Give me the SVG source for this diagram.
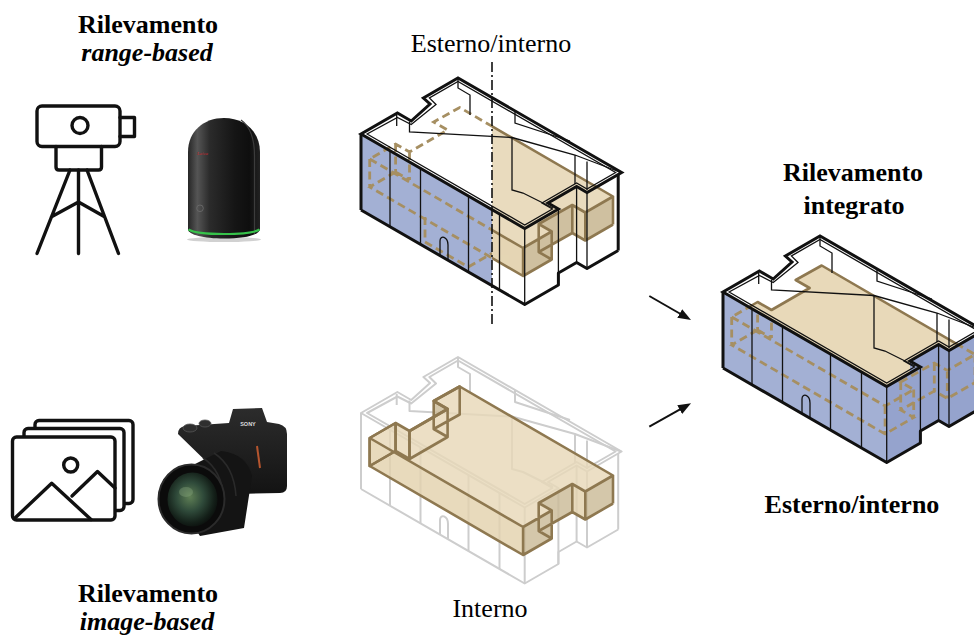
<svg xmlns="http://www.w3.org/2000/svg" width="974" height="635" viewBox="0 0 974 635">
<style>
  .t{font-family:"Liberation Serif","Times New Roman",serif;font-size:26px;fill:#000;text-anchor:middle}
  .b{font-weight:bold}
  .bi{font-weight:bold;font-style:italic}
  .ico{fill:none;stroke:#111;stroke-width:3.4;stroke-linejoin:round;stroke-linecap:round}
  .thin{fill:none;stroke:#111;stroke-width:1.3}
  .thick{fill:none;stroke:#111;stroke-width:3;stroke-linejoin:round}
  .roofline{fill:none;stroke:#111;stroke-width:3;stroke-linejoin:miter}
  .blue{fill:#a3b0d4}
  .blue2{fill:#95a3cd}
  .slabT{fill:#e8d9b9}
  .slabF{fill:#e3d2ae}
  .slabS{fill:#cbbb98}
  .slabE{fill:none;stroke:#8e7850;stroke-width:2.6;stroke-linejoin:round}
  .dash{fill:none;stroke:#a68f62;stroke-width:2.8;stroke-dasharray:8 4.5}
  .gray{fill:none;stroke:#cdcdcd;stroke-width:2;stroke-linejoin:round}
  .cut{fill:none;stroke:#111;stroke-width:1.6;stroke-dasharray:10 3 2 3}
  .arr{fill:none;stroke:#111;stroke-width:2}
</style>
<defs>
  <!-- building geometry, drawn once and reused for the three views -->
  <path id="g-roof" d="M361,134 L524.7,228.5 L558.4,209 L548,203 L576.6,186.5 L587,192.5 L621.6,172.5 L458,78 L423.4,98 L430,104 L411.2,121 L397.4,113 Z"/>
  <path id="g-roofin" d="M367.1,134 L524.7,225 L552.4,209 L542,203 L576.6,183 L587,189 L615.6,172.5 L458,81.5 L429.4,98 L436,104.5 L411.2,124.5 L397.4,117.5 Z"/>
  <path id="g-wallF" d="M361,134 L524.7,228.5 V304.5 L361,210 Z"/>
  <path id="g-wallR" d="M548,203 L576.6,186.5 V262.5 L548,279 Z M524.7,228.5 L558.4,209 V285 L524.7,304.5 Z M576.6,186.5 L587,192.5 V268.5 L576.6,262.5 Z M587,192.5 L618.2,174.5 V250.5 L587,268.5 Z"/>
  <path id="g-base" d="M361,210 L524.7,304.5 L558.4,285 V273 L576.6,262.5 L587,268.5 L618.2,250.5 M361,134 V210 M618.2,174.5 V250.5"/>
  <path id="g-edges" d="M524.7,228.5 V304.5 M558.4,209 V285 M576.6,186.5 V262.5 M587,192.5 V268.5 M390,150.7 V226.7 M420.5,168.4 V244.4 M468.5,196.1 V272.1 M499.5,214 V290 M440,255.6 V241 C440,234.5 448,236.5 448,245 V260.2"/>
  <path id="g-feat" d="M396.7,115 V126 M409.5,121.5 V132 L512,137.5 M458,79 V88 L470,95 V115 M515,111 V123 L570,141 M512,137.5 V190 L523,193 L553,208 M512,137.5 L575,155 L621,172.5 M575,155 V184 M587,161.5 V190"/>
  <!-- interior volume -->
  <path id="s-top" d="M369.7,159 L523.1,248 L551.7,231.5 L538.7,224 L572.3,205 L585.3,212.5 L613,196.5 L459.7,107.5 L433.7,122 L447.6,130 L409.5,152 L395.6,144 Z"/>
  <path id="s-lite" d="M369.7,159 L523.1,248 V276 L369.7,187 Z M572.3,205 L585.3,212.5 V240.5 L572.3,233 Z M395.6,144 L409.5,152 V180 L395.6,172 Z"/>
  <path id="s-dark" d="M523.1,248 L551.7,231.5 V259.5 L523.1,276 Z M538.7,224 L572.3,205 V233 L538.7,252 Z M585.3,212.5 L613,196.5 V224.5 L585.3,240.5 Z"/>
  <path id="s-hid" d="M369.7,159 L395.6,144 V172 L369.7,187 Z M433.7,122 L459.7,107.5 V135.5 L433.7,150 Z M409.5,152 L447.6,130 V158 L409.5,180 Z M433.7,122 L447.6,130 V158 L433.7,150 Z"/>
  <path id="s-edges" d="M369.7,159 L523.1,248 L551.7,231.5 L538.7,224 L572.3,205 L585.3,212.5 L613,196.5 L459.7,107.5 L433.7,122 L447.6,130 L409.5,152 L395.6,144 Z M395.6,172 L369.7,187 L523.1,276 L551.7,259.5 L538.7,252 L572.3,233 L585.3,240.5 L613,224.5 M395.6,172 L409.5,180 M369.7,159 V187 M523.1,248 V276 M551.7,231.5 V259.5 M538.7,224 V252 M572.3,205 V233 M585.3,212.5 V240.5 M613,196.5 V224.5 M395.6,144 V172 M409.5,152 V180"/>

  <clipPath id="cut-l"><rect x="0" y="0" width="492" height="635"/></clipPath>
  <clipPath id="cut-r"><rect x="492" y="0" width="482" height="635"/></clipPath>
  <clipPath id="walls"><use href="#g-wallF"/><use href="#g-wallR"/></clipPath>

  <linearGradient id="blk" x1="0" x2="1" y1="0" y2="0">
    <stop offset="0" stop-color="#262626"/>
    <stop offset="0.13" stop-color="#555"/>
    <stop offset="0.3" stop-color="#2b2b2b"/>
    <stop offset="0.65" stop-color="#151515"/>
    <stop offset="0.85" stop-color="#0e0e0e"/>
    <stop offset="1" stop-color="#222"/>
  </linearGradient>
  <linearGradient id="body" x1="0" x2="0" y1="0" y2="1">
    <stop offset="0" stop-color="#2c2c2c"/>
    <stop offset="1" stop-color="#131313"/>
  </linearGradient>
  <radialGradient id="glass" cx="0.45" cy="0.45" r="0.6">
    <stop offset="0" stop-color="#5f7f55"/>
    <stop offset="0.45" stop-color="#2f4a3a"/>
    <stop offset="0.8" stop-color="#142019"/>
    <stop offset="1" stop-color="#0a0d0b"/>
  </radialGradient>
  <marker id="head" viewBox="0 0 13 10" refX="7" refY="5" markerWidth="13" markerHeight="10" markerUnits="userSpaceOnUse" orient="auto">
    <path d="M0,0 L13,5 L0,10 Z" fill="#111"/>
  </marker>
</defs>

<rect width="974" height="635" fill="#fff"/>

<!-- labels -->
<g id="label-range">
  <text class="t b" x="148" y="33">Rilevamento</text>
  <text class="t bi" x="147" y="61">range-based</text>
</g>
<g id="label-image">
  <text class="t b" x="148" y="602">Rilevamento</text>
  <text class="t bi" x="147" y="630">image-based</text>
</g>
<g id="label-est-int">
  <text class="t" x="491" y="52">Esterno/interno</text>
</g>
<g id="label-interno">
  <text class="t" x="490" y="617">Interno</text>
</g>
<g id="label-integrato">
  <text class="t b" x="853" y="181">Rilevamento</text>
  <text class="t b" x="854" y="214">integrato</text>
</g>
<g id="label-integrato-sub">
  <text class="t b" x="852" y="513">Esterno/interno</text>
</g>

<!-- total station icon -->
<g id="icon-total-station" class="ico">
  <rect x="37" y="106" width="83" height="40.5" rx="5"/>
  <circle cx="80" cy="125.5" r="8"/>
  <path d="M120,117.5 H134.5 V136.5 H120"/>
  <path d="M56,146.5 V167 Q56,170 59,170 H98.5 Q101.5,170 101.5,167 V146.5"/>
  <path d="M78.5,170 V253.5 M70,170 L37,253.5 M87,170 L118.5,253.5 M51.5,216.7 L78.5,202 L104.6,216.7"/>
</g>

<!-- laser scanner -->
<g id="icon-scanner">
  <ellipse cx="224" cy="239.5" rx="37" ry="2.6" fill="#000" opacity="0.18"/>
  <path d="M188,229 V152 C188,131 204,118 224,118 C244,118 260,131 260,152 V229 C260,235 244,238.5 224,238.5 C204,238.5 188,235 188,229 Z" fill="url(#blk)"/>
  <path d="M241,120 C251,127 254.5,142 254.5,156 V234" fill="none" stroke="#3c3c3c" stroke-width="1.2"/>
  <path d="M188.5,229.5 C198,235.5 250,235.5 259.5,229.5" fill="none" stroke="#36c24a" stroke-width="2.2"/>
  <text x="197" y="154.5" font-size="5" fill="#c0272d" font-family="Liberation Serif, serif" font-style="italic">Leica</text>
  <circle cx="200" cy="208.3" r="3.3" fill="none" stroke="#6a6a6a" stroke-width="0.9"/>
</g>

<!-- image stack icon -->
<g id="icon-images" class="ico">
  <rect x="35" y="420.5" width="98" height="83" rx="4" fill="#fff"/>
  <rect x="24" y="428.5" width="100" height="82" rx="4" fill="#fff"/>
  <rect x="12.5" y="437" width="102.5" height="83" rx="4" fill="#fff"/>
  <circle cx="70.7" cy="465" r="7"/>
  <path d="M15,518 L51.7,483.3 L91,519.5"/>
  <path d="M72,496 L97.5,471.5 L115,488"/>
</g>

<!-- mirrorless camera -->
<g id="icon-camera">
  <path d="M178,434 Q178,427 185,426 L229,423 L233,409 L262,408 L267,422 L279,424 Q287,426 287,434 V486 Q287,493 280,493 L238,494 L215,470 Z" fill="url(#body)"/>
  <ellipse cx="190" cy="428" rx="7" ry="4" fill="#2f2f2f" stroke="#555" stroke-width="0.8"/>
  <ellipse cx="205" cy="423.5" rx="6" ry="3.5" fill="#2f2f2f" stroke="#555" stroke-width="0.8"/>
  <text x="248" y="426" font-size="5.5" fill="#ddd" font-family="Liberation Sans, sans-serif" font-weight="bold" text-anchor="middle">SONY</text>
  <path d="M257,446 L260,468" stroke="#b5552e" stroke-width="2"/>
  <path d="M163,480 L221,451 Q247,454 252,476 L244,528 L200,536 Z" fill="#141414"/>
  <path d="M203,458 Q222,470 224,500 M214,453 Q234,466 236,496" fill="none" stroke="#2a2a2a" stroke-width="1.5"/>
  <ellipse cx="191.5" cy="499" rx="33" ry="34.5" fill="#0b0b0b" stroke="#2b2b2b" stroke-width="2"/>
  <ellipse cx="192.5" cy="499.5" rx="25" ry="27" fill="url(#glass)"/>
  <ellipse cx="186" cy="492" rx="7" ry="5" fill="#8fae85" opacity="0.35"/>
</g>

<!-- top: exterior / interior survey -->
<g id="bldg-esterno-interno">
  <g clip-path="url(#cut-l)">
    <use href="#g-roof" fill="#fff"/>
    <use href="#g-wallF" class="blue"/>
    <use href="#s-edges" class="dash"/>
    <path class="dash" d="M425,217 V242 L468.3,267 L492,253.3"/>
  </g>
  <g clip-path="url(#cut-r)">
    <use href="#g-roof" fill="#fff"/>
    <use href="#g-wallF" fill="#fff"/>
    <use href="#g-wallR" fill="#fff"/>
    <g opacity="0.92">
      <use href="#s-hid" class="slabS"/>
      <use href="#s-lite" class="slabF"/>
      <use href="#s-dark" class="slabS"/>
      <use href="#s-top" class="slabT"/>
    </g>
    <use href="#s-edges" class="slabE"/>
  </g>
  <use href="#g-edges" class="thin"/>
  <use href="#g-roofin" class="thin"/>
  <use href="#g-feat" class="thin"/>
  <use href="#g-base" class="thick"/>
  <use href="#g-roof" class="roofline"/>
  <path class="cut" d="M492,62 V326"/>
</g>

<!-- bottom: interior survey -->
<g id="bldg-interno" transform="translate(0,279)">
  <use href="#g-roof" fill="#fff"/>
  <use href="#g-wallR" fill="#fff"/>
  <use href="#g-edges" class="gray"/>
  <use href="#g-roofin" class="gray"/>
  <use href="#g-feat" class="gray"/>
  <use href="#g-base" class="gray"/>
  <use href="#g-roof" class="gray"/>
  <g opacity="0.82">
    <use href="#s-hid" class="slabS"/>
    <use href="#s-lite" class="slabF"/>
    <use href="#s-dark" class="slabS"/>
    <use href="#s-top" class="slabT"/>
  </g>
  <use href="#s-hid" class="slabE"/>
  <use href="#s-edges" class="slabE"/>
</g>

<!-- right: integrated survey -->
<g id="bldg-integrato" transform="translate(362,158)">
  <use href="#g-roof" fill="#fff"/>
  <use href="#s-lite" class="slabF"/>
  <use href="#s-dark" class="slabS"/>
  <use href="#s-top" class="slabT"/>
  <use href="#s-top" class="slabE"/>
  <use href="#g-wallF" class="blue"/>
  <use href="#g-wallR" class="blue2"/>
  <use href="#s-edges" class="dash" clip-path="url(#walls)"/>
  <use href="#g-edges" class="thin"/>
  <use href="#g-roofin" class="thin"/>
  <use href="#g-feat" class="thin"/>
  <use href="#g-base" class="thick"/>
  <use href="#g-roof" class="roofline"/>
</g>

<!-- connectors -->
<g id="connectors">
  <path class="arr" d="M649.3,296 L685.8,317" marker-end="url(#head)"/>
  <path class="arr" d="M649.3,426.7 L685.8,406.2" marker-end="url(#head)"/>
</g>
</svg>
